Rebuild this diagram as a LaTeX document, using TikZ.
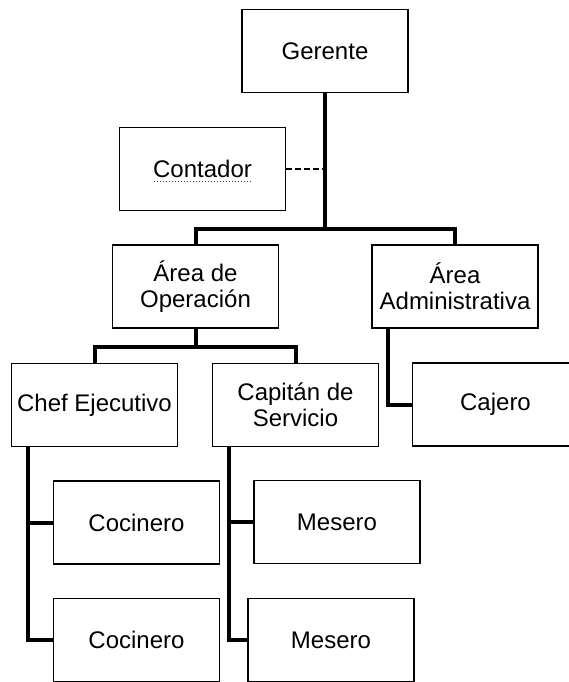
\documentclass[tikz,border=0pt]{standalone}
\usepackage{fontspec}
\setmainfont{Liberation Sans}
\usetikzlibrary{calc,positioning}
\tikzset{
	caja/.style={draw, line width=1.5pt, minimum width=166pt, minimum height=83pt, inner sep=0pt, align=center},
	conector/.style={line width=4pt, line join=miter},
	enlace/.style={line width=2pt, dash pattern=on 6pt off 3pt},
}
\begin{document}
\begin{tikzpicture}[x=1pt,y=-1pt]
                        \useasboundingbox (0,0) rectangle (569,682);
                        \clip (0,0) rectangle (569,682);
                        {\fontsize{24}{26}\selectfont

                        % Marking box Gerente
                        \node [caja] (gerente) at (325,51) {Gerente};%

                        % Marking box Contador
                        \node [caja] (contador) at (202.5,169) {Contador};%
                        \draw [dotted, line width=1pt, black!75] ([xshift=-49pt,yshift=-12pt]contador.center) -- ([xshift=49pt,yshift=-12pt]contador.center);%

                        % Marking boxes of the two areas
                        \node [caja] (operacion) at (195.5,286.5) {Área de\\Operación};%
                        \node [caja] (administrativa) at (455,286.5) {Área\\Administrativa};%

                        % Marking boxes of the third row
                        \node [caja] (chef) at (94.5,405) {Chef Ejecutivo};%
                        \node [caja] (capitan) at (295.5,405) {Capitán de\\Servicio};%
                        \node [caja] (cajero) at (495.5,404.5) {Cajero};%

                        % Marking boxes Cocinero
                        \node [caja] (cocinero1) at (136.5,522.5) {Cocinero};%
                        \node [caja] (cocinero2) at (136.5,640) {Cocinero};%

                        % Marking boxes Mesero
                        \node [caja] (mesero1) at (337,522) {Mesero};%
                        \node [caja] (mesero2) at (331,640) {Mesero};%
                        }

                        % Drawing line Gerente to the areas
                        \coordinate (barra) at (325,229);%
                        \draw [conector] (gerente.south) -- (barra);%
                        \draw [conector] (operacion.north) |- (barra) -| (administrativa.north);%

                        % Drawing dashed line Contador
                        \draw [enlace] (contador.east) -- (contador.east -| barra);%

                        % Drawing line Operacion to Chef and Capitan
                        \draw [conector] (operacion.south) -- ++(0,18) coordinate (barra2);%
                        \draw [conector] (chef.north) |- (barra2) -| (capitan.north);%

                        % Drawing line Administrativa to Cajero
                        \draw [conector] ([xshift=17pt]administrativa.south west) |- (cajero.west);%

                        % Drawing lines Chef to Cocinero
                        \coordinate (ejechef) at ([xshift=17pt]chef.south west);%
                        \draw [conector] (ejechef) |- (cocinero2.west);%
                        \draw [conector] (cocinero1.west) -- (cocinero1.west -| ejechef);%

                        % Drawing lines Capitan to Mesero
                        \coordinate (ejecapitan) at ([xshift=17pt]capitan.south west);%
                        \draw [conector] (ejecapitan) |- (mesero2.west);%
                        \draw [conector] (mesero1.west) -- (mesero1.west -| ejecapitan);%
                    \end{tikzpicture}
\end{document}
